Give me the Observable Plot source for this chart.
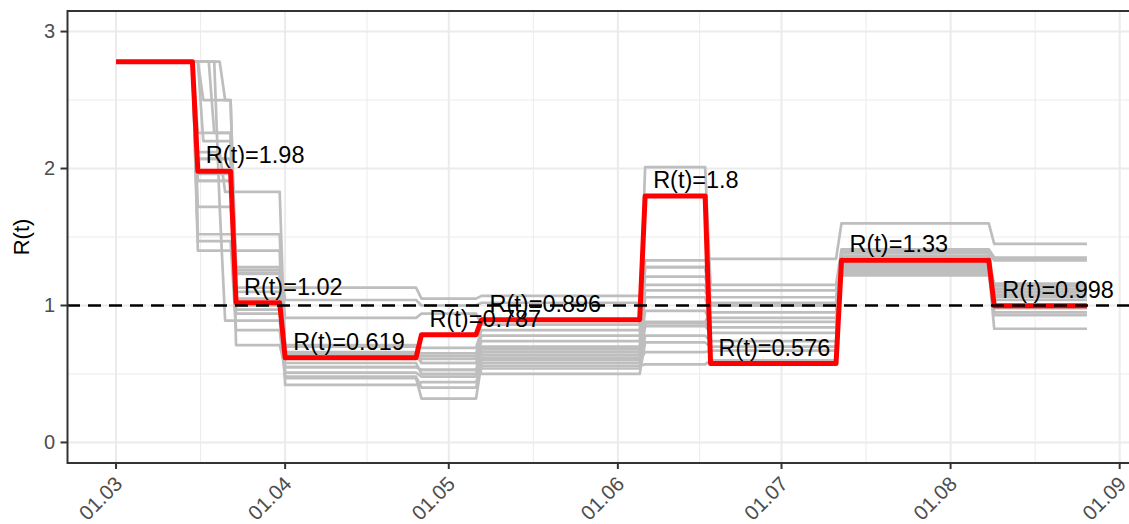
<!DOCTYPE html>
<html>
<head>
<meta charset="utf-8">
<script src="https://cdn.jsdelivr.net/npm/d3@7"></script>
<script src="https://cdn.jsdelivr.net/npm/@observablehq/plot@0.6"></script>
<style>
  html, body { margin: 0; padding: 0; background: #fff; overflow: hidden; }
  #chart svg { display: block; }
</style>
</head>
<body>
<div id="chart"></div>
<script>
// ---- data ----
// segments of the estimated (red) step function
const segStart = ["2020-03-01","2020-03-16","2020-03-23","2020-04-01","2020-04-26","2020-05-07","2020-06-06","2020-06-18","2020-07-12","2020-08-09"];
const segEnd   = ["2020-03-15","2020-03-22","2020-03-31","2020-04-25","2020-05-06","2020-06-05","2020-06-17","2020-07-11","2020-08-08","2020-08-26"];
const redValues = [2.78, 1.98, 1.02, 0.619, 0.787, 0.896, 1.8, 0.576, 1.33, 0.998];
const labelTexts = [null, "R(t)=1.98", "R(t)=1.02", "R(t)=0.619", "R(t)=0.787", "R(t)=0.896", "R(t)=1.8", "R(t)=0.576", "R(t)=1.33", "R(t)=0.998"];

// grey trajectories: value per segment
const greyValues = [
  [2.78, 2.50, 1.28, 1.04, 1.00, 1.02, 1.33, 1.34, 1.60, 1.45],
  [2.78, 2.26, 1.26, 0.91, 0.94, 0.86, 2.01, 1.15, 1.41, 1.35],
  [2.78, 2.20, 1.23, 0.71, 0.69, 0.82, 1.28, 1.11, 1.38, 1.33],
  [2.78, 2.12, 1.83, 0.66, 0.65, 0.78, 1.21, 1.06, 1.32, 1.16],
  [2.78, 2.07, 1.13, 1.13, 1.05, 1.07, 1.15, 1.02, 1.30, 1.14],
  [2.78, 1.96, 0.97, 0.62, 0.61, 0.74, 1.11, 1.00, 1.28, 1.12],
  [2.78, 1.91, 0.94, 0.64, 0.58, 0.70, 1.06, 0.91, 1.27, 1.10],
  [2.78, 1.72, 0.89, 0.55, 0.53, 0.66, 0.96, 0.88, 1.25, 1.08],
  [2.78, 1.52, 1.52, 0.51, 0.48, 0.62, 0.87, 0.84, 1.24, 1.06],
  [2.78, 1.47, 0.82, 0.47, 0.32, 0.58, 0.85, 0.80, 1.22, 1.04],
  [2.78, 1.40, 1.40, 0.42, 0.44, 0.54, 0.78, 0.74, 1.33, 0.98],
  [2.78, 1.72, 1.24, 0.70, 0.58, 0.50, 0.73, 0.70, 1.31, 0.95],
  [2.78, 2.26, 0.71, 0.55, 0.53, 0.60, 0.66, 0.67, 1.29, 0.93],
  [2.78, 2.50, 1.10, 0.48, 0.40, 0.56, 0.57, 0.60, 1.26, 0.83],
  [2.78, 1.91, 1.05, 0.58, 0.50, 0.64, 1.28, 1.00, 1.36, 1.00],
  [2.78, 2.07, 1.00, 0.65, 0.63, 0.68, 0.88, 0.95, 1.40, 1.10]
];
// day of March on which each grey trajectory's first and second segments end
const greyBreak1 = [16, 15, 16, 15, 15, 15, 15, 15, 15, 15, 15, 19, 18, 20, 15, 15];
const greyBreak2 = [22, 22, 22, 20, 22, 22, 22, 20, 22, 22, 22, 22, 22, 22, 22, 22];

// axis ticks
const xTickDates = ["2020-03-01","2020-04-01","2020-05-01","2020-06-01","2020-07-01","2020-08-01","2020-09-01"];
const yTicks = [0, 1, 2, 3];
const yMinor = [0.5, 1.5, 2.5];
const refLine = [1];

// ---- build tables ----
const D = s => new Date(s + "T00:00:00Z");
const pad = n => String(n).padStart(2, "0");

const redRows = redValues.flatMap((v, i) => [
  {date: D(segStart[i]), v}, {date: D(segEnd[i]), v}
]);
const labelRows = redValues.map((v, i) => ({date: D(segStart[i]), v, label: labelTexts[i]})).filter(d => d.label);

const greyRows = greyValues.flatMap((vals, k) => {
  const starts = [segStart[0], `2020-03-${pad(greyBreak1[k] + 1)}`, `2020-03-${pad(greyBreak2[k] + 1)}`, ...segStart.slice(3)];
  const ends = [`2020-03-${pad(greyBreak1[k])}`, `2020-03-${pad(greyBreak2[k])}`, ...segEnd.slice(2)];
  return vals.flatMap((v, i) => [
    {id: k, date: D(starts[i]), v}, {id: k, date: D(ends[i]), v}
  ]);
});

const xMajor = xTickDates.map(D);
const xMinor = xMajor.slice(1).map((d, i) => new Date((+d + +xMajor[i]) / 2));

const x0 = D(segStart[0]), x1 = D(segEnd[segEnd.length - 1]);
const ext = (x1 - x0) * 0.05;
const xDomain = [new Date(+x0 - ext), new Date(+x1 + ext)];

const FONT = "'Liberation Sans', Arial, Helvetica, sans-serif";

const chart = Plot.plot({
  width: 1129,
  height: 524,
  marginLeft: 67,
  marginRight: -6,
  marginTop: 10.5,
  marginBottom: 61.5,
  style: {fontFamily: FONT, background: "#fff", color: "#000"},
  x: {type: "utc", domain: xDomain},
  y: {domain: [-0.15, 3.15]},
  marks: [
    // grid
    Plot.ruleY(yMinor, {stroke: "#ebebeb", strokeWidth: 1}),
    Plot.ruleX(xMinor, {stroke: "#ebebeb", strokeWidth: 1}),
    Plot.ruleY(yTicks, {stroke: "#ebebeb", strokeWidth: 2}),
    Plot.ruleX(xMajor, {stroke: "#ebebeb", strokeWidth: 2}),
    // grey trajectories
    Plot.line(greyRows, {x: "date", y: "v", z: "id", stroke: "#bebebe", strokeWidth: 2.7, strokeLinecap: "butt", strokeLinejoin: "round"}),
    // red estimate
    Plot.line(redRows, {x: "date", y: "v", stroke: "#ff0000", strokeWidth: 5, strokeLinecap: "butt", strokeLinejoin: "round"}),
    // labels
    Plot.text(labelRows, {x: "date", y: "v", text: "label", textAnchor: "start", lineAnchor: "bottom", dx: 8, dy: -8, fontSize: 23.5, fill: "#000"}),
    // reference line
    Plot.ruleY(refLine, {stroke: "#000", strokeWidth: 2.5, strokeDasharray: "13,8"}),
    // frame
    Plot.frame({stroke: "#333", strokeWidth: 2}),
    // axes
    Plot.axisY({ticks: yTicks, tickFormat: d3.format("d"), tickSize: 6.5, tickPadding: 6, fontSize: 20, stroke: "#333", strokeWidth: 2, fill: "#4d4d4d", label: null}),
    Plot.axisX({ticks: xMajor, tickFormat: () => "", tickSize: 6.5, stroke: "#333", strokeWidth: 2, label: null}),
    Plot.axisX({ticks: xMajor, tickFormat: d3.utcFormat("%d.%m"), tickRotate: -45, tickSize: 0, tickPadding: 17.5, dx: 3, fontSize: 20.5, fill: "#4d4d4d", label: null}),
    // y title
    Plot.text(["R(t)"], {frameAnchor: "left", dx: -46, rotate: -90, text: d => d, fontSize: 22, fill: "#000", textAnchor: "middle", lineAnchor: "middle"})
  ]
});
document.getElementById("chart").appendChild(chart);
</script>
</body>
</html>
